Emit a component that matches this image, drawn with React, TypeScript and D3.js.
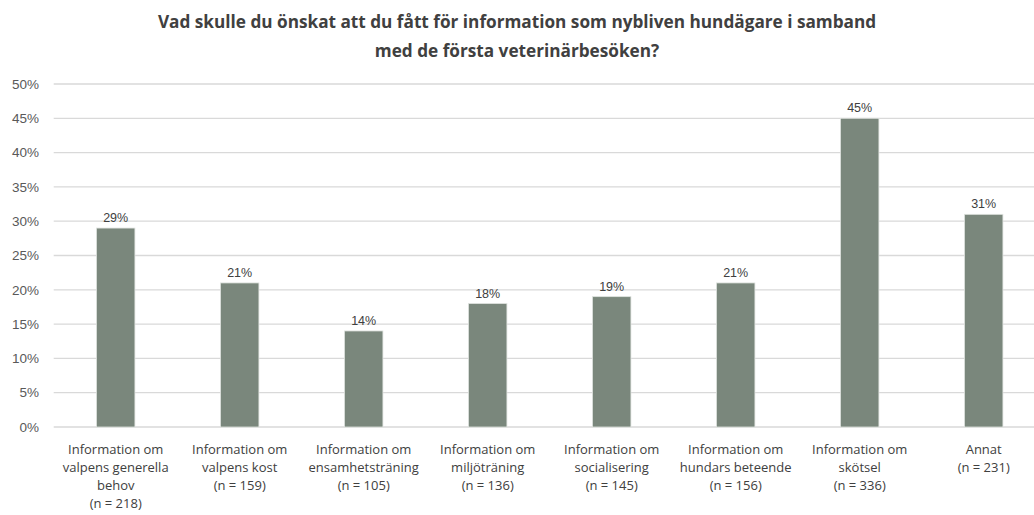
import React from "react";
import * as d3 from "d3";

const titleLines = [
  "Vad skulle du önskat att du fått för information som nybliven hundägare i samband",
  "med de första veterinärbesöken?",
];
const categoryLines: string[][] = [
  ["Information om", "valpens generella", "behov", "(n = 218)"],
  ["Information om", "valpens kost", "(n = 159)"],
  ["Information om", "ensamhetsträning", "(n = 105)"],
  ["Information om", "miljöträning", "(n = 136)"],
  ["Information om", "socialisering", "(n = 145)"],
  ["Information om", "hundars beteende", "(n = 156)"],
  ["Information om", "skötsel", "(n = 336)"],
  ["Annat", "(n = 231)"],
];
const values = [29, 21, 14, 18, 19, 21, 45, 31];
const yTicks = [0, 5, 10, 15, 20, 25, 30, 35, 40, 45, 50];

const W = 1034;
const H = 515;
const left = 53.7;
const right = 1045.7;
const top = 84;
const bottom = 427;

export default function App() {
  const x = d3
    .scaleBand<number>()
    .domain(values.map((_, i) => i))
    .range([left, right])
    .paddingInner(0.69)
    .paddingOuter(0.345);
  const y = d3.scaleLinear().domain([0, 50]).range([bottom, top]);

  return (
    <svg
      width={W}
      height={H}
      style={{ position: "absolute", left: 0, top: 0, background: "#fff" }}
    >
      {titleLines.map((t, i) => (
        <text
          key={i}
          x={517}
          y={28 + i * 29}
          textAnchor="middle"
          fontFamily="'Open Sans', sans-serif"
          fontWeight={700}
          fontSize={17.2}
          fill="#404040"
        >
          {t}
        </text>
      ))}
      {yTicks.map((t) => (
        <g key={t}>
          <line
            x1={left}
            x2={W}
            y1={y(t)}
            y2={y(t)}
            stroke="#d9d9d9"
            strokeWidth={1.3}
          />
          <text
            x={39}
            y={y(t)}
            dy="0.35em"
            textAnchor="end"
            fontFamily="'Liberation Sans', Arial, sans-serif"
            fontSize={13.5}
            fill="#595959"
          >
            {t}%
          </text>
        </g>
      ))}
      {values.map((v, i) => (
        <g key={i}>
          <rect
            x={x(i)}
            y={y(v)}
            width={x.bandwidth()}
            height={y(0) - y(v)}
            fill="#7a877c"
            stroke="#dfe3df"
            strokeWidth={0.8}
          />
          <text
            x={(x(i) as number) + x.bandwidth() / 2}
            y={y(v) - 6}
            textAnchor="middle"
            fontFamily="'Liberation Sans', Arial, sans-serif"
            fontSize={12.5}
            fill="#404040"
          >
            {v}%
          </text>
          {categoryLines[i].map((l, j) => (
            <text
              key={j}
              x={(x(i) as number) + x.bandwidth() / 2}
              y={454 + j * 18}
              textAnchor="middle"
              fontFamily="'Open Sans', sans-serif"
              fontSize={13}
              fill="#404040"
            >
              {l}
            </text>
          ))}
        </g>
      ))}
    </svg>
  );
}
